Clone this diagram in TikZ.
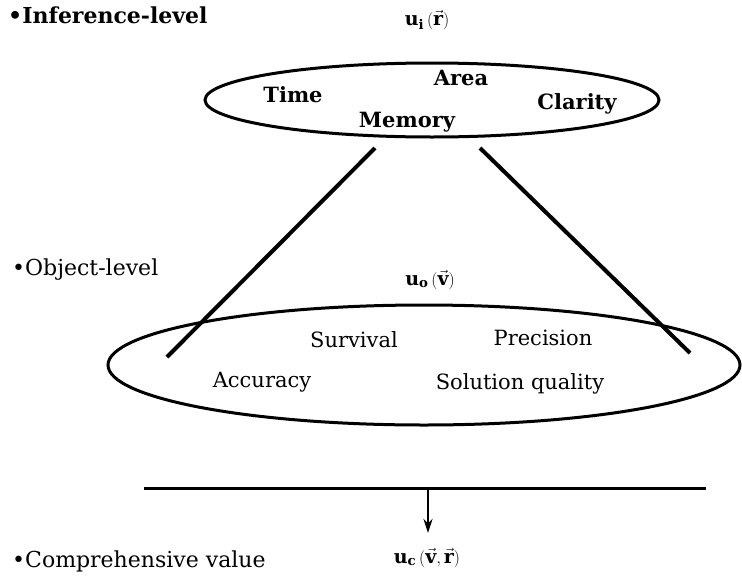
\documentclass[tikz,border=0pt]{standalone}
\usepackage{fontspec}
\setmainfont{DejaVu Serif}
\usetikzlibrary{shapes.geometric,arrows.meta}
\begin{document}
\begin{tikzpicture}[x=1pt,y=-1pt,
  heading/.style={anchor=base west,inner sep=0pt,font=\fontsize{22}{26}\selectfont},
  toplabel/.style={inner sep=0pt,font=\fontsize{21}{25}\selectfont\bfseries},
  objlabel/.style={inner sep=0pt,font=\fontsize{21}{25}\selectfont},
  utility/.style={inner sep=0pt,font=\fontsize{19}{23}\selectfont},
  levelring/.style={draw,ellipse,line width=3pt,inner sep=0pt},
  cone/.style={line width=4pt},
  rule/.style={line width=3pt}]
\useasboundingbox (0,0) rectangle (742,584);

% section headings
\node[heading,font=\fontsize{22}{26}\selectfont\bfseries] (hinf) at (8,23) {•Inference-level};
\node[heading] (hobj) at (12,275) {•Object-level};
\node[heading] (hcomp) at (12,567) {•Comprehensive value};

% inference-level criteria
\node[levelring,minimum width=454pt,minimum height=74pt] (inf) at (432,100) {};
\node[utility] (ui) at (427,20) {$\mathbf{u}_{\mathbf{i}}\,(\vec{\mathbf{r}})$};
\node[toplabel] (time) at (293,95) {Time};
\node[toplabel] (area) at (461,78) {Area};
\node[toplabel] (clar) at (577,104) {Clarity};
\node[toplabel] (mem) at (407,122) {Memory};

% object-level criteria
\node[levelring,minimum width=632pt,minimum height=120pt] (obj) at (424,365) {};
\node[utility] (uo) at (430,280) {$\mathbf{u}_{\mathbf{o}}\,(\vec{\mathbf{v}})$};
\node[objlabel] (surv) at (354,340) {Survival};
\node[objlabel] (prec) at (543,338) {Precision};
\node[objlabel] (acc) at (262,382) {Accuracy};
\node[objlabel] (sol) at (520,384) {Solution quality};

% cone joining the two levels
\coordinate (lt) at (375,148);
\coordinate (lb) at (167,357);
\coordinate (rt) at (480,148);
\coordinate (rb) at (690,353);
\draw[cone] (lt) -- (lb);
\draw[cone] (rt) -- (rb);

% combination into the comprehensive value
\coordinate (rl) at (144,488);
\coordinate (rr) at (706,488);
\coordinate (drop) at (428,488);
\coordinate (dropend) at (428,533);
\draw[rule] (rl) -- (rr);
\draw[line width=2.6pt,-{Stealth[length=14pt,width=9pt]}] (drop) -- (dropend);
\node[utility] (uc) at (427,558) {$\mathbf{u}_{\mathbf{c}}\,(\vec{\mathbf{v}},\vec{\mathbf{r}})$};
\end{tikzpicture}
\end{document}
